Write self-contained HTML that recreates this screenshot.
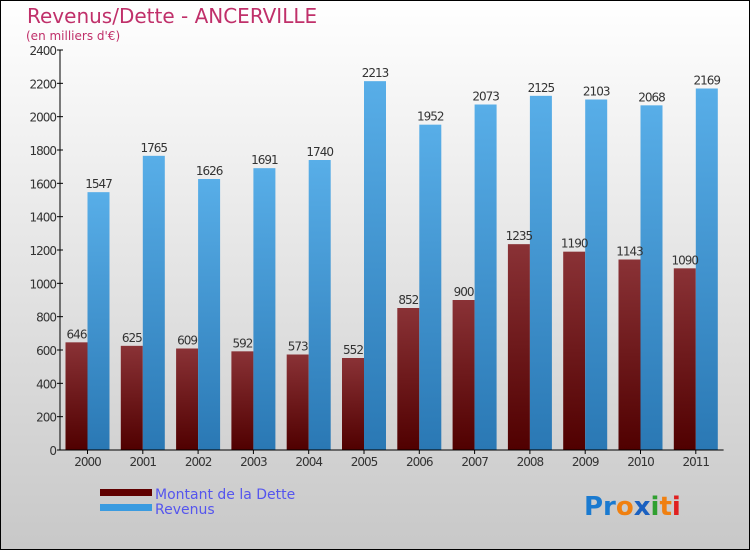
<!DOCTYPE html>
<html><head><meta charset="utf-8"><style>
body{margin:0;}
#c{width:750px;height:550px;position:relative;overflow:hidden;}
svg text{font-family:"DejaVu Sans","Liberation Sans",sans-serif;}
</style></head><body>
<div id="c">
<svg id="s" width="750" height="550" xmlns="http://www.w3.org/2000/svg">
<defs>
<linearGradient id="bg" x1="0" y1="0" x2="0" y2="1"><stop offset="0" stop-color="#ffffff"/><stop offset="1" stop-color="#c8c8c8"/></linearGradient>
<linearGradient id="gd" x1="0" y1="0" x2="0" y2="1"><stop offset="0" stop-color="#8a3236"/><stop offset="1" stop-color="#500000"/></linearGradient>
<linearGradient id="gr" x1="0" y1="0" x2="0" y2="1"><stop offset="0" stop-color="#58aee8"/><stop offset="1" stop-color="#2a78b4"/></linearGradient>
</defs>
<rect x="0.5" y="0.5" width="749" height="549" fill="url(#bg)" stroke="#000"/>
<text x="27" y="23" font-size="20" fill="#c0306a">Revenus/Dette - ANCERVILLE</text>
<text x="26" y="40" font-size="12" fill="#c0306a">(en milliers d'€)</text>
<g id="plot"></g>
<rect x="100" y="489" width="52" height="7" fill="#600000"/>
<text x="155" y="499" font-size="14" fill="#5555ee">Montant de la Dette</text>
<rect x="100" y="504" width="52" height="7" fill="#3a9be0"/>
<text x="155" y="514" font-size="14" fill="#5555ee">Revenus</text>
<text x="584" y="515" font-size="26" font-weight="bold"><tspan fill="#1a7ad0">Pr</tspan><tspan fill="#f08010">o</tspan><tspan fill="#1a60c0">x</tspan><tspan fill="#30a030">i</tspan><tspan fill="#f08010">t</tspan><tspan fill="#e02020">i</tspan></text>
</svg>
</div>
<script>
const years=["2000","2001","2002","2003","2004","2005","2006","2007","2008","2009","2010","2011"];
const dette=[646,625,609,592,573,552,852,900,1235,1190,1143,1090];
const revenus=[1547,1765,1626,1691,1740,2213,1952,2073,2125,2103,2068,2169];
const yTicks=[0,200,400,600,800,1000,1200,1400,1600,1800,2000,2200,2400];
const X0=60,Y0=450,STEP=55.3,BW=22;
const y=v=>Y0-v*400/2400;
const x=i=>X0+27.5+i*STEP;
const g=document.getElementById('plot');
const NS="http://www.w3.org/2000/svg";
function mk(t,a){const e=document.createElementNS(NS,t);for(const k in a)e.setAttribute(k,a[k]);g.appendChild(e);return e;}
yTicks.forEach(v=>{
 const l=mk('line',{x1:X0-3,x2:X0+3,y1:y(v),y2:y(v),stroke:'#000'});
 
 
 const t=mk('text',{x:X0-4,y:y(v)+5,'font-size':12,fill:'#333','text-anchor':'end','letter-spacing':'-1'});
 t.textContent=v;
 
 
});
years.forEach((yr,i)=>{
 const cx=x(i);
 const d=mk('rect',{x:cx-BW,y:y(dette[i]),width:BW,height:Y0-y(dette[i]),fill:'url(#gd)'});
 
 
 const r=mk('rect',{x:cx,y:y(revenus[i]),width:BW,height:Y0-y(revenus[i]),fill:'url(#gr)'});
 
 
 const dl=mk('text',{x:cx-BW/2,y:y(dette[i])-4,'font-size':12,fill:'#333','text-anchor':'middle','letter-spacing':'-1'});
 dl.textContent=dette[i];
 
 
 const rl=mk('text',{x:cx+BW/2,y:y(revenus[i])-4,'font-size':12,fill:'#333','text-anchor':'middle','letter-spacing':'-1'});
 rl.textContent=revenus[i];
 
 
 const tk=mk('line',{x1:cx,x2:cx,y1:Y0,y2:Y0+4,stroke:'#000'});
 
 
 const xl=mk('text',{x:cx,y:Y0+16,'font-size':12,fill:'#333','text-anchor':'middle','letter-spacing':'-1'});
 xl.textContent=yr;
 
 
});
const ya=mk('line',{x1:X0,x2:X0,y1:y(2400),y2:Y0,stroke:'#000'});


const xa=mk('line',{x1:X0,x2:X0+12*STEP,y1:Y0,y2:Y0,stroke:'#000'});


</script>
</body></html>
